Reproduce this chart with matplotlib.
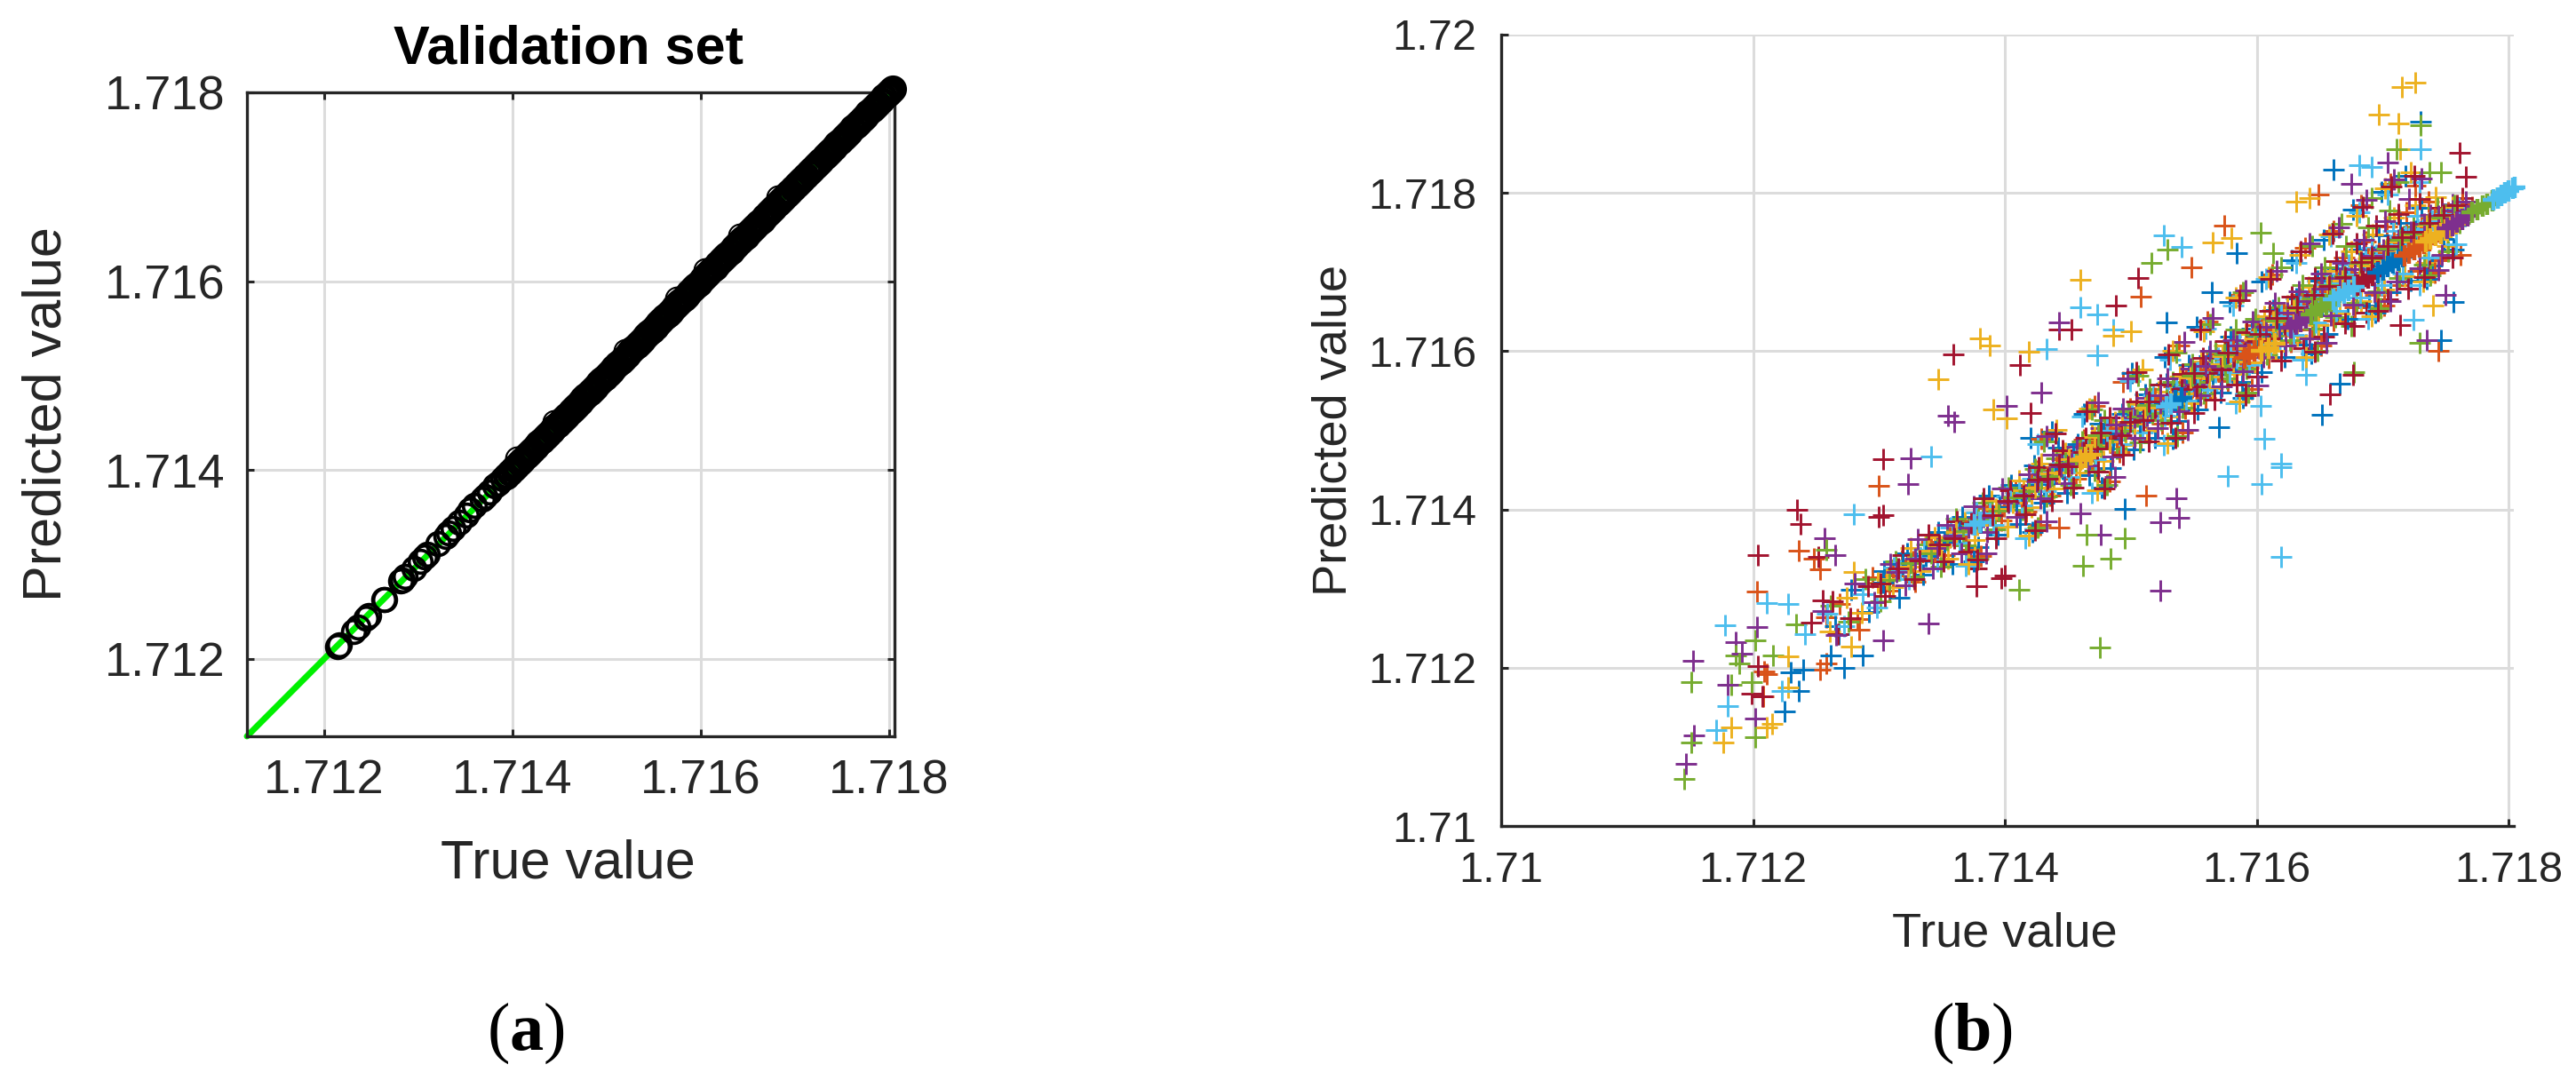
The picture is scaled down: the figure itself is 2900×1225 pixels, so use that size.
import matplotlib
matplotlib.use("Agg")
import matplotlib.pyplot as plt

plt.rcParams["font.family"] = ["Liberation Sans", "DejaVu Sans"]
plt.rcParams["mathtext.fontset"] = "custom"
plt.rcParams["mathtext.rm"] = "Liberation Serif"
plt.rcParams["mathtext.bf"] = "Liberation Serif:bold"

W, H = 2900, 1225
text_col = "#262626"
grid_col = "#dcdcdc"

# (a) validation set
val_line = [1.71118, 1.71800]
val_true = [1.71216, 1.71214, 1.71231, 1.71236, 1.71244, 1.71247, 1.71263, 1.71264, 1.71281, 1.71283, 1.71286,
            1.71295, 1.71302, 1.71307, 1.71310, 1.71321, 1.71329, 1.71332, 1.71337, 1.71344, 1.71351, 1.71355,
            1.71360, 1.71368, 1.71371, 1.71376, 1.71381, 1.71385, 1.71390]
val_pred = [1.71215, 1.71213, 1.71229, 1.71234, 1.71243, 1.71246, 1.71263, 1.71263, 1.71283, 1.71284, 1.71287,
            1.71296, 1.71303, 1.71308, 1.71311, 1.71322, 1.71330, 1.71333, 1.71338, 1.71345, 1.71352, 1.71358,
            1.71363, 1.71369, 1.71372, 1.71377, 1.71383, 1.71386, 1.71391]
val_dense = [1.71394, 1.71397, 1.71401, 1.71404, 1.71408, 1.71411, 1.71415, 1.71418, 1.71421, 1.71425, 1.71428,
             1.71431, 1.71435, 1.71438, 1.71442, 1.71445, 1.71448, 1.71452, 1.71455, 1.71458, 1.71462, 1.71465,
             1.71468, 1.71472, 1.71475, 1.71478, 1.71482, 1.71485, 1.71488, 1.71492, 1.71495, 1.71498, 1.71502,
             1.71505, 1.71508, 1.71512, 1.71515, 1.71518, 1.71522, 1.71525, 1.71528, 1.71532, 1.71535, 1.71538,
             1.71542, 1.71545, 1.71548, 1.71552, 1.71555, 1.71558, 1.71562, 1.71565, 1.71568, 1.71572, 1.71575,
             1.71578, 1.71582, 1.71585, 1.71588, 1.71592, 1.71595, 1.71598, 1.71602, 1.71605, 1.71608, 1.71612,
             1.71615, 1.71618, 1.71622, 1.71625, 1.71628, 1.71632, 1.71635, 1.71638, 1.71642, 1.71645, 1.71648,
             1.71652, 1.71655, 1.71658, 1.71662, 1.71665, 1.71668, 1.71672, 1.71675, 1.71678, 1.71682, 1.71685,
             1.71688, 1.71692, 1.71695, 1.71698, 1.71702, 1.71705, 1.71708, 1.71712, 1.71715, 1.71718, 1.71722,
             1.71725, 1.71728, 1.71732, 1.71735, 1.71738, 1.71742, 1.71745, 1.71748, 1.71752, 1.71755, 1.71758,
             1.71762, 1.71765, 1.71768, 1.71772, 1.71775, 1.71778, 1.71782, 1.71785, 1.71788, 1.71792, 1.71795,
             1.71798, 1.71800, 1.71802, 1.71804]
val_off_true = [1.71405, 1.71575, 1.71605, 1.71682, 1.71642, 1.71520, 1.71445]
val_off_pred = [1.71412, 1.71582, 1.71612, 1.71689, 1.71649, 1.71526, 1.71451]

# (b) crosses, one list per colour
blue_pts = [(1.71225, 1.71145), (1.71236, 1.71171), (1.71272, 1.71200), (1.71287, 1.71215), (1.71652, 1.71520),
            (1.71666, 1.71559), (1.71570, 1.71504), (1.71495, 1.71401), (1.71756, 1.71662), (1.71746, 1.71614),
            (1.71730, 1.71890), (1.71661, 1.71829), (1.71584, 1.71724), (1.71564, 1.71675), (1.71528, 1.71636),
            (1.71420, 1.71491), (1.71230, 1.71194), (1.71240, 1.71197), (1.71262, 1.71216), (1.71268, 1.71242),
            (1.71265, 1.71252), (1.71278, 1.71298), (1.71292, 1.71271), (1.71304, 1.71322), (1.71316, 1.71289),
            (1.71322, 1.71345), (1.71335, 1.71318), (1.71347, 1.71372), (1.71358, 1.71331), (1.71366, 1.71391),
            (1.71379, 1.71352), (1.71387, 1.71418), (1.71394, 1.71368), (1.71405, 1.71431), (1.71412, 1.71382),
            (1.71423, 1.71456), (1.71431, 1.71409), (1.71442, 1.71478), (1.71449, 1.71421), (1.71458, 1.71483),
            (1.71467, 1.71443), (1.71475, 1.71508), (1.71484, 1.71452), (1.71493, 1.71521), (1.71502, 1.71476),
            (1.71511, 1.71546), (1.71519, 1.71491), (1.71528, 1.71559), (1.71537, 1.71512), (1.71546, 1.71583),
            (1.71553, 1.71526), (1.71562, 1.71594), (1.71571, 1.71548), (1.71579, 1.71618), (1.71588, 1.71561),
            (1.71596, 1.71629), (1.71604, 1.71574), (1.71613, 1.71652), (1.71622, 1.71593), (1.71631, 1.71667),
            (1.71639, 1.71608), (1.71648, 1.71689), (1.71656, 1.71622), (1.71664, 1.71705), (1.71672, 1.71641),
            (1.71681, 1.71728), (1.71689, 1.71658), (1.71697, 1.71746), (1.71706, 1.71675), (1.71714, 1.71762),
            (1.71722, 1.71689), (1.71731, 1.71781), (1.71739, 1.71708), (1.71748, 1.71742), (1.71756, 1.71728),
            (1.71765, 1.71771)]
blue_fill = [(1.71303, 1.71308), (1.71319, 1.71331), (1.71337, 1.71341), (1.71352, 1.71359), (1.71364, 1.71372),
             (1.71381, 1.71384), (1.71396, 1.71403), (1.71409, 1.71412), (1.71418, 1.71427), (1.71427, 1.71432),
             (1.71439, 1.71444), (1.71446, 1.71451), (1.71454, 1.71468), (1.71465, 1.71469), (1.71474, 1.71482),
             (1.71486, 1.71488), (1.71497, 1.71507), (1.71507, 1.71511), (1.71516, 1.71524), (1.71526, 1.71532),
             (1.71534, 1.71543), (1.71544, 1.71551), (1.71555, 1.71563), (1.71565, 1.71571), (1.71573, 1.71582),
             (1.71583, 1.71589), (1.71593, 1.71602), (1.71602, 1.71607), (1.71611, 1.71622), (1.71619, 1.71628),
             (1.71628, 1.71641), (1.71635, 1.71643), (1.71644, 1.71657), (1.71652, 1.71659), (1.71661, 1.71676),
             (1.71668, 1.71678), (1.71437, 1.71498), (1.71463, 1.71521), (1.71501, 1.71572), (1.71527, 1.71593),
             (1.71552, 1.71631), (1.71578, 1.71662), (1.71604, 1.71688), (1.71628, 1.71715), (1.71653, 1.71741),
             (1.71676, 1.71779), (1.71699, 1.71801), (1.71718, 1.71821), (1.71375, 1.71335), (1.71422, 1.71371),
             (1.71477, 1.71428), (1.71533, 1.71489), (1.71589, 1.71541), (1.71643, 1.71597), (1.71694, 1.71649),
             (1.71735, 1.71691)]
blue_gap = [(1.71478, 1.71496), (1.71515, 1.71534), (1.71551, 1.71571), (1.71576, 1.71597), (1.71601, 1.71619),
            (1.71617, 1.71641), (1.71633, 1.71655), (1.71646, 1.71668), (1.71659, 1.71684), (1.71671, 1.71693),
            (1.71684, 1.71712), (1.71693, 1.71719), (1.71705, 1.71731), (1.71716, 1.71742), (1.71726, 1.71752),
            (1.71738, 1.71763), (1.71749, 1.71771), (1.71758, 1.71779)]
orange_pts = [(1.71203, 1.71296), (1.71236, 1.71348), (1.71248, 1.71338), (1.71300, 1.71430), (1.71508, 1.71669),
              (1.71574, 1.71759), (1.71548, 1.71706), (1.71744, 1.71601), (1.71443, 1.71377), (1.71512, 1.71417),
              (1.71649, 1.71798), (1.71253, 1.71197), (1.71209, 1.71195), (1.71253, 1.71324), (1.71211, 1.71192),
              (1.71208, 1.71164), (1.71258, 1.71205), (1.71284, 1.71248),
              (1.71258, 1.71264), (1.71269, 1.71281), (1.71283, 1.71262), (1.71295, 1.71314), (1.71308, 1.71297),
              (1.71318, 1.71336), (1.71329, 1.71309), (1.71341, 1.71359), (1.71352, 1.71342), (1.71363, 1.71378),
              (1.71372, 1.71349), (1.71384, 1.71402), (1.71397, 1.71386), (1.71408, 1.71422), (1.71417, 1.71397),
              (1.71426, 1.71449), (1.71436, 1.71418), (1.71445, 1.71463), (1.71456, 1.71439), (1.71463, 1.71488),
              (1.71473, 1.71452), (1.71482, 1.71497), (1.71491, 1.71473), (1.71499, 1.71528), (1.71508, 1.71489),
              (1.71516, 1.71537), (1.71525, 1.71508), (1.71534, 1.71556), (1.71543, 1.71527), (1.71551, 1.71575),
              (1.71559, 1.71541), (1.71568, 1.71596), (1.71577, 1.71562), (1.71585, 1.71612), (1.71593, 1.71579),
              (1.71601, 1.71633), (1.71609, 1.71591), (1.71618, 1.71648), (1.71627, 1.71612), (1.71635, 1.71671),
              (1.71644, 1.71627), (1.71652, 1.71692), (1.71661, 1.71639), (1.71669, 1.71718), (1.71678, 1.71655),
              (1.71686, 1.71739), (1.71694, 1.71671), (1.71703, 1.71758), (1.71711, 1.71684), (1.71719, 1.71776),
              (1.71728, 1.71702), (1.71736, 1.71789), (1.71745, 1.71715), (1.71753, 1.71768), (1.71762, 1.71722),
              (1.71771, 1.71782)]
orange_fill = [(1.71311, 1.71317), (1.71327, 1.71335), (1.71344, 1.71347), (1.71356, 1.71365), (1.71369, 1.71374),
               (1.71386, 1.71393), (1.71399, 1.71404), (1.71413, 1.71416), (1.71421, 1.71431), (1.71433, 1.71437),
               (1.71441, 1.71453), (1.71451, 1.71454), (1.71459, 1.71471), (1.71469, 1.71474), (1.71478, 1.71489),
               (1.71489, 1.71492), (1.71501, 1.71513), (1.71511, 1.71516), (1.71521, 1.71531), (1.71531, 1.71537),
               (1.71539, 1.71549), (1.71549, 1.71554), (1.71557, 1.71569), (1.71569, 1.71576), (1.71578, 1.71589),
               (1.71587, 1.71596), (1.71597, 1.71609), (1.71606, 1.71612), (1.71615, 1.71628), (1.71623, 1.71632),
               (1.71632, 1.71645), (1.71641, 1.71652), (1.71649, 1.71663), (1.71657, 1.71666), (1.71665, 1.71682),
               (1.71673, 1.71686), (1.71429, 1.71489), (1.71471, 1.71531), (1.71494, 1.71561), (1.71538, 1.71607),
               (1.71561, 1.71638), (1.71587, 1.71671), (1.71612, 1.71697), (1.71638, 1.71731), (1.71661, 1.71752),
               (1.71683, 1.71784), (1.71706, 1.71812), (1.71726, 1.71809), (1.71381, 1.71341), (1.71428, 1.71381),
               (1.71483, 1.71436), (1.71541, 1.71497), (1.71596, 1.71552), (1.71651, 1.71607), (1.71701, 1.71658),
               (1.71741, 1.71699)]
orange_gap = [(1.71484, 1.71503), (1.71519, 1.71541), (1.71555, 1.71577), (1.71581, 1.71601), (1.71604, 1.71627),
              (1.71621, 1.71646), (1.71637, 1.71659), (1.71649, 1.71676), (1.71663, 1.71688), (1.71675, 1.71699),
              (1.71688, 1.71717), (1.71697, 1.71724), (1.71709, 1.71737), (1.71719, 1.71748), (1.71731, 1.71756),
              (1.71741, 1.71768), (1.71752, 1.71775), (1.71763, 1.71786)]
yellow_pts = [(1.71726, 1.71939), (1.71715, 1.71934), (1.71697, 1.71899), (1.71712, 1.71888), (1.71714, 1.71855),
              (1.71460, 1.71690), (1.71380, 1.71616), (1.71388, 1.71607), (1.71347, 1.71564), (1.71419, 1.71599),
              (1.71391, 1.71526), (1.71401, 1.71515), (1.71500, 1.71625), (1.71486, 1.71619), (1.71565, 1.71737),
              (1.71580, 1.71743), (1.71631, 1.71789), (1.71642, 1.71794), (1.71740, 1.71658), (1.71183, 1.71125),
              (1.71176, 1.71105), (1.71215, 1.71129), (1.71211, 1.71125), (1.71228, 1.71175), (1.71278, 1.71227),
              (1.71280, 1.71321), (1.71228, 1.71214),
              (1.71261, 1.71246), (1.71274, 1.71289), (1.71286, 1.71269), (1.71299, 1.71307), (1.71311, 1.71302),
              (1.71325, 1.71351), (1.71333, 1.71322), (1.71344, 1.71365), (1.71355, 1.71338), (1.71368, 1.71384),
              (1.71376, 1.71361), (1.71389, 1.71411), (1.71402, 1.71378), (1.71411, 1.71437), (1.71421, 1.71403),
              (1.71429, 1.71458), (1.71439, 1.71426), (1.71448, 1.71471), (1.71459, 1.71447), (1.71469, 1.71494),
              (1.71478, 1.71461), (1.71487, 1.71511), (1.71496, 1.71482), (1.71505, 1.71533), (1.71513, 1.71499),
              (1.71522, 1.71549), (1.71531, 1.71517), (1.71539, 1.71568), (1.71548, 1.71534), (1.71556, 1.71587),
              (1.71565, 1.71553), (1.71574, 1.71607), (1.71582, 1.71571), (1.71591, 1.71622), (1.71598, 1.71586),
              (1.71606, 1.71644), (1.71615, 1.71601), (1.71624, 1.71658), (1.71632, 1.71619), (1.71641, 1.71681),
              (1.71649, 1.71633), (1.71658, 1.71702), (1.71666, 1.71648), (1.71675, 1.71726), (1.71683, 1.71663),
              (1.71692, 1.71748), (1.71701, 1.71678), (1.71709, 1.71769), (1.71717, 1.71695), (1.71726, 1.71785),
              (1.71734, 1.71712), (1.71742, 1.71795), (1.71751, 1.71733), (1.71759, 1.71776)]
yellow_fill = [(1.71306, 1.71312), (1.71323, 1.71328), (1.71339, 1.71348), (1.71349, 1.71353), (1.71361, 1.71371),
               (1.71378, 1.71381), (1.71393, 1.71401), (1.71406, 1.71409), (1.71415, 1.71424), (1.71424, 1.71428),
               (1.71436, 1.71446), (1.71443, 1.71447), (1.71451, 1.71463), (1.71461, 1.71465), (1.71471, 1.71481),
               (1.71483, 1.71486), (1.71493, 1.71504), (1.71503, 1.71508), (1.71514, 1.71526), (1.71523, 1.71529),
               (1.71532, 1.71541), (1.71541, 1.71547), (1.71553, 1.71566), (1.71562, 1.71568), (1.71571, 1.71584),
               (1.71581, 1.71587), (1.71591, 1.71604), (1.71599, 1.71606), (1.71608, 1.71619), (1.71617, 1.71626),
               (1.71626, 1.71642), (1.71633, 1.71641), (1.71642, 1.71658), (1.71651, 1.71661), (1.71659, 1.71674),
               (1.71667, 1.71683), (1.71441, 1.71501), (1.71467, 1.71528), (1.71509, 1.71577), (1.71533, 1.71601),
               (1.71558, 1.71625), (1.71583, 1.71668), (1.71609, 1.71694), (1.71634, 1.71722), (1.71657, 1.71748),
               (1.71679, 1.71771), (1.71702, 1.71806), (1.71722, 1.71826), (1.71371, 1.71331), (1.71419, 1.71367),
               (1.71473, 1.71424), (1.71529, 1.71484), (1.71586, 1.71537), (1.71639, 1.71593), (1.71691, 1.71644),
               (1.71732, 1.71688)]
yellow_gap = [(1.71471, 1.71492), (1.71511, 1.71529), (1.71547, 1.71567), (1.71573, 1.71594), (1.71598, 1.71616),
              (1.71613, 1.71637), (1.71629, 1.71652), (1.71643, 1.71665), (1.71656, 1.71681), (1.71668, 1.71689),
              (1.71681, 1.71708), (1.71690, 1.71714), (1.71701, 1.71727), (1.71713, 1.71738), (1.71723, 1.71747),
              (1.71735, 1.71759), (1.71746, 1.71768), (1.71755, 1.71782)]
purple_pts = [(1.71152, 1.71209), (1.71147, 1.71079), (1.71153, 1.71114), (1.71186, 1.71232), (1.71202, 1.71136),
              (1.71191, 1.71218), (1.71257, 1.71364), (1.71325, 1.71465), (1.71323, 1.71432), (1.71339, 1.71256),
              (1.71523, 1.71297), (1.71303, 1.71235), (1.71476, 1.71368), (1.71538, 1.71390), (1.71523, 1.71384),
              (1.71536, 1.71414), (1.71429, 1.71548), (1.71443, 1.71636), (1.71401, 1.71531), (1.71355, 1.71518),
              (1.71360, 1.71511), (1.71750, 1.71671), (1.71735, 1.71614), (1.71460, 1.71395), (1.71675, 1.71811),
              (1.71704, 1.71838), (1.71203, 1.71251), (1.71180, 1.71179), (1.71265, 1.71342),
              (1.71255, 1.71272), (1.71266, 1.71241), (1.71281, 1.71306), (1.71296, 1.71283), (1.71309, 1.71331),
              (1.71321, 1.71304), (1.71331, 1.71362), (1.71343, 1.71326), (1.71354, 1.71381), (1.71365, 1.71344),
              (1.71375, 1.71404), (1.71386, 1.71372), (1.71398, 1.71426), (1.71409, 1.71391), (1.71419, 1.71444),
              (1.71428, 1.71414), (1.71438, 1.71469), (1.71447, 1.71433), (1.71457, 1.71479), (1.71466, 1.71456),
              (1.71476, 1.71503), (1.71485, 1.71467), (1.71494, 1.71527), (1.71503, 1.71491), (1.71512, 1.71541),
              (1.71521, 1.71503), (1.71529, 1.71566), (1.71538, 1.71524), (1.71547, 1.71578), (1.71555, 1.71544),
              (1.71563, 1.71601), (1.71572, 1.71556), (1.71581, 1.71614), (1.71589, 1.71575), (1.71597, 1.71637),
              (1.71605, 1.71593), (1.71614, 1.71661), (1.71623, 1.71607), (1.71633, 1.71676), (1.71642, 1.71616),
              (1.71651, 1.71698), (1.71659, 1.71645), (1.71668, 1.71712), (1.71676, 1.71659), (1.71685, 1.71741),
              (1.71693, 1.71675), (1.71702, 1.71764), (1.71711, 1.71688), (1.71721, 1.71792), (1.71729, 1.71705),
              (1.71738, 1.71772), (1.71747, 1.71722), (1.71755, 1.71786)]
purple_fill = [(1.71314, 1.71321), (1.71329, 1.71338), (1.71346, 1.71351), (1.71359, 1.71367), (1.71371, 1.71377),
               (1.71383, 1.71391), (1.71403, 1.71408), (1.71416, 1.71419), (1.71425, 1.71435), (1.71435, 1.71441),
               (1.71444, 1.71455), (1.71453, 1.71458), (1.71461, 1.71473), (1.71471, 1.71477), (1.71481, 1.71492),
               (1.71491, 1.71496), (1.71503, 1.71516), (1.71513, 1.71518), (1.71523, 1.71534), (1.71533, 1.71539),
               (1.71542, 1.71553), (1.71551, 1.71558), (1.71561, 1.71574), (1.71571, 1.71579), (1.71581, 1.71593),
               (1.71591, 1.71599), (1.71601, 1.71612), (1.71609, 1.71617), (1.71618, 1.71631), (1.71627, 1.71637),
               (1.71637, 1.71652), (1.71644, 1.71654), (1.71653, 1.71668), (1.71661, 1.71671), (1.71669, 1.71687),
               (1.71677, 1.71691), (1.71433, 1.71493), (1.71474, 1.71535), (1.71497, 1.71566), (1.71542, 1.71612),
               (1.71565, 1.71642), (1.71591, 1.71677), (1.71616, 1.71702), (1.71642, 1.71736), (1.71665, 1.71757),
               (1.71687, 1.71791), (1.71709, 1.71817), (1.71731, 1.71818), (1.71385, 1.71344), (1.71433, 1.71385),
               (1.71487, 1.71441), (1.71545, 1.71501), (1.71601, 1.71557), (1.71655, 1.71611), (1.71706, 1.71663),
               (1.71744, 1.71703)]
purple_gap = [(1.71488, 1.71507), (1.71523, 1.71544), (1.71559, 1.71581), (1.71584, 1.71607), (1.71607, 1.71631),
              (1.71624, 1.71649), (1.71640, 1.71663), (1.71652, 1.71679), (1.71666, 1.71692), (1.71678, 1.71704),
              (1.71691, 1.71721), (1.71700, 1.71728), (1.71712, 1.71741), (1.71722, 1.71751), (1.71733, 1.71761),
              (1.71744, 1.71771), (1.71755, 1.71778), (1.71766, 1.71789)]
green_pts = [(1.71145, 1.71060), (1.71151, 1.71182), (1.71151, 1.71105), (1.71183, 1.71178), (1.71186, 1.71215),
             (1.71202, 1.71235), (1.71202, 1.71112), (1.71475, 1.71226), (1.71411, 1.71298), (1.71462, 1.71329),
             (1.71484, 1.71338), (1.71495, 1.71364), (1.71465, 1.71368), (1.71529, 1.71728), (1.71516, 1.71711),
             (1.71603, 1.71750), (1.71613, 1.71724), (1.71730, 1.71886), (1.71711, 1.71855), (1.71746, 1.71826),
             (1.71675, 1.71632), (1.71729, 1.71610), (1.71677, 1.71573), (1.71189, 1.71205), (1.71199, 1.71182),
             (1.71216, 1.71216), (1.71234, 1.71255), (1.71258, 1.71349),
             (1.71262, 1.71278), (1.71276, 1.71258), (1.71289, 1.71312), (1.71301, 1.71284), (1.71313, 1.71334),
             (1.71327, 1.71315), (1.71338, 1.71356), (1.71349, 1.71328), (1.71361, 1.71388), (1.71369, 1.71355),
             (1.71382, 1.71408), (1.71392, 1.71375), (1.71403, 1.71428), (1.71414, 1.71399), (1.71424, 1.71451),
             (1.71433, 1.71416), (1.71441, 1.71465), (1.71452, 1.71431), (1.71461, 1.71486), (1.71471, 1.71449),
             (1.71479, 1.71513), (1.71489, 1.71477), (1.71498, 1.71524), (1.71507, 1.71485), (1.71515, 1.71552),
             (1.71524, 1.71513), (1.71533, 1.71561), (1.71541, 1.71529), (1.71549, 1.71584), (1.71558, 1.71547),
             (1.71567, 1.71599), (1.71576, 1.71566), (1.71583, 1.71627), (1.71592, 1.71578), (1.71599, 1.71641),
             (1.71608, 1.71596), (1.71617, 1.71655), (1.71626, 1.71614), (1.71636, 1.71684), (1.71645, 1.71629),
             (1.71654, 1.71706), (1.71662, 1.71643), (1.71671, 1.71733), (1.71679, 1.71661), (1.71688, 1.71756),
             (1.71696, 1.71676), (1.71705, 1.71778), (1.71713, 1.71692), (1.71724, 1.71758), (1.71733, 1.71709),
             (1.71743, 1.71781), (1.71752, 1.71726), (1.71761, 1.71762)]
green_fill = [(1.71308, 1.71311), (1.71325, 1.71332), (1.71341, 1.71345), (1.71354, 1.71361), (1.71367, 1.71373),
              (1.71379, 1.71387), (1.71395, 1.71398), (1.71407, 1.71415), (1.71419, 1.71423), (1.71429, 1.71439),
              (1.71437, 1.71442), (1.71448, 1.71459), (1.71456, 1.71461), (1.71467, 1.71478), (1.71476, 1.71479),
              (1.71485, 1.71497), (1.71495, 1.71499), (1.71505, 1.71517), (1.71517, 1.71522), (1.71528, 1.71539),
              (1.71536, 1.71542), (1.71546, 1.71558), (1.71554, 1.71561), (1.71564, 1.71577), (1.71575, 1.71581),
              (1.71585, 1.71598), (1.71594, 1.71599), (1.71604, 1.71616), (1.71613, 1.71619), (1.71621, 1.71636),
              (1.71631, 1.71639), (1.71639, 1.71656), (1.71647, 1.71655), (1.71656, 1.71672), (1.71663, 1.71673),
              (1.71672, 1.71691), (1.71431, 1.71486), (1.71469, 1.71526), (1.71506, 1.71569), (1.71536, 1.71598),
              (1.71563, 1.71634), (1.71589, 1.71674), (1.71619, 1.71706), (1.71644, 1.71733), (1.71667, 1.71761),
              (1.71691, 1.71794), (1.71712, 1.71814), (1.71737, 1.71826), (1.71379, 1.71338), (1.71426, 1.71377),
              (1.71481, 1.71431), (1.71537, 1.71493), (1.71593, 1.71548), (1.71648, 1.71601), (1.71698, 1.71654),
              (1.71738, 1.71696)]
green_gap = [(1.71474, 1.71494), (1.71513, 1.71532), (1.71549, 1.71569), (1.71574, 1.71596), (1.71599, 1.71621),
             (1.71615, 1.71639), (1.71631, 1.71654), (1.71644, 1.71667), (1.71658, 1.71683), (1.71669, 1.71695),
             (1.71682, 1.71711), (1.71692, 1.71717), (1.71703, 1.71729), (1.71714, 1.71741), (1.71725, 1.71749),
             (1.71736, 1.71761), (1.71747, 1.71769), (1.71757, 1.71784)]
cyan_pts = [(1.71178, 1.71254), (1.71180, 1.71151), (1.71171, 1.71121), (1.71211, 1.71282), (1.71228, 1.71281),
            (1.71280, 1.71394), (1.71341, 1.71467), (1.71526, 1.71746), (1.71540, 1.71732), (1.71460, 1.71655),
            (1.71473, 1.71647), (1.71433, 1.71603), (1.71486, 1.71627), (1.71473, 1.71595), (1.71603, 1.71531),
            (1.71606, 1.71489), (1.71619, 1.71458), (1.71619, 1.71453), (1.71577, 1.71442), (1.71604, 1.71432),
            (1.71619, 1.71340), (1.71681, 1.71835), (1.71691, 1.71833), (1.71730, 1.71855), (1.71639, 1.71570),
            (1.71724, 1.71640), (1.71223, 1.71171), (1.71241, 1.71242),
            (1.71259, 1.71268), (1.71272, 1.71253), (1.71287, 1.71293), (1.71298, 1.71276), (1.71312, 1.71327),
            (1.71324, 1.71312), (1.71336, 1.71349), (1.71346, 1.71334), (1.71357, 1.71377), (1.71364, 1.71358),
            (1.71377, 1.71396), (1.71391, 1.71381), (1.71401, 1.71416), (1.71413, 1.71405), (1.71422, 1.71439),
            (1.71432, 1.71423), (1.71443, 1.71458), (1.71451, 1.71441), (1.71462, 1.71476), (1.71472, 1.71463),
            (1.71481, 1.71504), (1.71492, 1.71483), (1.71501, 1.71518), (1.71509, 1.71497), (1.71518, 1.71544),
            (1.71527, 1.71519), (1.71536, 1.71553), (1.71544, 1.71538), (1.71552, 1.71572), (1.71561, 1.71551),
            (1.71569, 1.71591), (1.71578, 1.71573), (1.71586, 1.71609), (1.71594, 1.71583), (1.71603, 1.71628),
            (1.71611, 1.71604), (1.71620, 1.71645), (1.71629, 1.71621), (1.71638, 1.71664), (1.71647, 1.71636),
            (1.71655, 1.71685), (1.71663, 1.71651), (1.71673, 1.71709), (1.71682, 1.71668), (1.71691, 1.71731),
            (1.71699, 1.71683), (1.71708, 1.71752), (1.71716, 1.71698), (1.71727, 1.71771), (1.71736, 1.71718),
            (1.71746, 1.71762), (1.71758, 1.71735)]
cyan_fill = [(1.71317, 1.71323), (1.71333, 1.71339), (1.71349, 1.71354), (1.71362, 1.71369), (1.71374, 1.71382),
             (1.71388, 1.71395), (1.71404, 1.71411), (1.71411, 1.71421), (1.71427, 1.71434), (1.71438, 1.71447),
             (1.71447, 1.71456), (1.71455, 1.71459), (1.71466, 1.71475), (1.71475, 1.71481), (1.71483, 1.71493),
             (1.71494, 1.71501), (1.71502, 1.71514), (1.71512, 1.71519), (1.71521, 1.71528), (1.71529, 1.71541),
             (1.71538, 1.71546), (1.71548, 1.71557), (1.71556, 1.71567), (1.71567, 1.71574), (1.71576, 1.71587),
             (1.71584, 1.71592), (1.71596, 1.71607), (1.71605, 1.71614), (1.71614, 1.71626), (1.71624, 1.71634),
             (1.71634, 1.71647), (1.71642, 1.71651), (1.71651, 1.71667), (1.71659, 1.71669), (1.71667, 1.71684),
             (1.71675, 1.71688), (1.71426, 1.71483), (1.71461, 1.71517), (1.71499, 1.71562), (1.71531, 1.71589),
             (1.71559, 1.71628), (1.71581, 1.71658), (1.71607, 1.71691), (1.71631, 1.71711), (1.71659, 1.71745),
             (1.71681, 1.71775), (1.71704, 1.71798), (1.71729, 1.71814), (1.71369, 1.71329), (1.71416, 1.71364),
             (1.71469, 1.71421), (1.71526, 1.71481), (1.71583, 1.71534), (1.71636, 1.71589), (1.71688, 1.71641),
             (1.71729, 1.71684)]
cyan_gap = [(1.71481, 1.71499), (1.71517, 1.71537), (1.71553, 1.71574), (1.71579, 1.71599), (1.71603, 1.71624),
            (1.71619, 1.71644), (1.71635, 1.71657), (1.71648, 1.71672), (1.71661, 1.71686), (1.71673, 1.71697),
            (1.71686, 1.71714), (1.71695, 1.71722), (1.71707, 1.71734), (1.71718, 1.71745), (1.71728, 1.71754),
            (1.71739, 1.71765), (1.71750, 1.71773), (1.71760, 1.71781)]
darkred_pts = [(1.71204, 1.71342), (1.71235, 1.71399), (1.71238, 1.71382), (1.71303, 1.71463), (1.71359, 1.71596),
               (1.71412, 1.71582), (1.71488, 1.71658), (1.71506, 1.71693), (1.71453, 1.71627), (1.71443, 1.71627),
               (1.71761, 1.71851), (1.71766, 1.71820), (1.71400, 1.71316), (1.71377, 1.71303), (1.71377, 1.71326),
               (1.71397, 1.71313), (1.71303, 1.71393), (1.71300, 1.71391), (1.71199, 1.71167), (1.71207, 1.71164),
               (1.71204, 1.71202), (1.71677, 1.71632), (1.71714, 1.71633), (1.71676, 1.71570), (1.71658, 1.71546),
               (1.71420, 1.71522), (1.71252, 1.71340), (1.71255, 1.71285), (1.71267, 1.71242), (1.71246, 1.71257),
               (1.71263, 1.71284), (1.71277, 1.71263), (1.71291, 1.71303), (1.71305, 1.71291), (1.71319, 1.71342),
               (1.71328, 1.71312), (1.71339, 1.71368), (1.71351, 1.71335), (1.71362, 1.71385), (1.71371, 1.71347),
               (1.71383, 1.71414), (1.71393, 1.71364), (1.71404, 1.71424), (1.71416, 1.71394), (1.71427, 1.71453),
               (1.71437, 1.71411), (1.71446, 1.71475), (1.71454, 1.71428), (1.71464, 1.71491), (1.71474, 1.71448),
               (1.71483, 1.71516), (1.71494, 1.71469), (1.71504, 1.71536), (1.71514, 1.71486), (1.71523, 1.71558),
               (1.71532, 1.71509), (1.71541, 1.71571), (1.71550, 1.71522), (1.71557, 1.71592), (1.71566, 1.71539),
               (1.71575, 1.71613), (1.71584, 1.71558), (1.71592, 1.71624), (1.71600, 1.71568), (1.71610, 1.71651),
               (1.71619, 1.71588), (1.71628, 1.71669), (1.71637, 1.71604), (1.71646, 1.71693), (1.71653, 1.71618),
               (1.71663, 1.71714), (1.71670, 1.71635), (1.71679, 1.71736), (1.71687, 1.71649), (1.71695, 1.71759),
               (1.71704, 1.71666), (1.71712, 1.71773), (1.71720, 1.71679), (1.71729, 1.71792), (1.71737, 1.71702),
               (1.71747, 1.71781), (1.71755, 1.71718), (1.71763, 1.71793)]
darkred_fill = [(1.71301, 1.71306), (1.71315, 1.71325), (1.71332, 1.71336), (1.71348, 1.71356), (1.71360, 1.71364),
                (1.71373, 1.71383), (1.71390, 1.71393), (1.71402, 1.71411), (1.71415, 1.71418), (1.71426, 1.71438),
                (1.71434, 1.71439), (1.71443, 1.71457), (1.71450, 1.71454), (1.71463, 1.71472), (1.71473, 1.71477),
                (1.71480, 1.71491), (1.71492, 1.71494), (1.71499, 1.71511), (1.71510, 1.71513), (1.71519, 1.71529),
                (1.71528, 1.71534), (1.71540, 1.71552), (1.71552, 1.71556), (1.71560, 1.71572), (1.71572, 1.71577),
                (1.71582, 1.71594), (1.71590, 1.71597), (1.71600, 1.71613), (1.71610, 1.71616), (1.71622, 1.71634),
                (1.71630, 1.71637), (1.71641, 1.71654), (1.71650, 1.71658), (1.71658, 1.71671), (1.71666, 1.71676),
                (1.71674, 1.71693), (1.71440, 1.71496), (1.71465, 1.71524), (1.71504, 1.71574), (1.71530, 1.71596),
                (1.71555, 1.71627), (1.71586, 1.71664), (1.71611, 1.71691), (1.71635, 1.71726), (1.71660, 1.71749),
                (1.71684, 1.71782), (1.71707, 1.71808), (1.71725, 1.71822), (1.71378, 1.71337), (1.71424, 1.71374),
                (1.71479, 1.71426), (1.71535, 1.71491), (1.71591, 1.71544), (1.71646, 1.71599), (1.71696, 1.71651),
                (1.71733, 1.71694)]
darkred_gap = [(1.71476, 1.71497), (1.71514, 1.71536), (1.71550, 1.71572), (1.71577, 1.71598), (1.71602, 1.71622),
               (1.71616, 1.71642), (1.71632, 1.71656), (1.71645, 1.71671), (1.71657, 1.71682), (1.71670, 1.71694),
               (1.71683, 1.71713), (1.71691, 1.71718), (1.71704, 1.71733), (1.71715, 1.71744), (1.71724, 1.71751),
               (1.71737, 1.71762), (1.71748, 1.71772), (1.71759, 1.71785)]

# solid runs along the diagonal
blue_core = [(1.71696, 1.71699), (1.71700, 1.71703), (1.71704, 1.71707), (1.71708, 1.71711), (1.71712, 1.71715),
             (1.71716, 1.71719), (1.71535, 1.71538), (1.71540, 1.71541)]
orange_core = [(1.71717, 1.71720), (1.71721, 1.71724), (1.71725, 1.71728), (1.71729, 1.71732), (1.71733, 1.71736),
               (1.71737, 1.71740), (1.71590, 1.71592), (1.71594, 1.71596), (1.71598, 1.71600), (1.71602, 1.71604)]
yellow_core = [(1.71734, 1.71738), (1.71738, 1.71742), (1.71742, 1.71746), (1.71746, 1.71749), (1.71750, 1.71753),
               (1.71754, 1.71757), (1.71758, 1.71761), (1.71460, 1.71462), (1.71464, 1.71466), (1.71468, 1.71469),
               (1.71604, 1.71600), (1.71609, 1.71604), (1.71614, 1.71609)]
purple_core = [(1.71751, 1.71755), (1.71755, 1.71759), (1.71759, 1.71763), (1.71763, 1.71767), (1.71767, 1.71771),
               (1.71771, 1.71775), (1.71627, 1.71630), (1.71631, 1.71634), (1.71635, 1.71638), (1.71639, 1.71642)]
green_core = [(1.71771, 1.71775), (1.71775, 1.71779), (1.71779, 1.71783), (1.71783, 1.71786), (1.71787, 1.71790),
              (1.71791, 1.71794), (1.71643, 1.71647), (1.71647, 1.71651), (1.71651, 1.71655), (1.71655, 1.71659),
              (1.71659, 1.71663)]
cyan_core = [(1.71788, 1.71791), (1.71791, 1.71794), (1.71794, 1.71797), (1.71797, 1.71800), (1.71800, 1.71803),
             (1.71803, 1.71806), (1.71805, 1.71807), (1.71661, 1.71665), (1.71665, 1.71669), (1.71669, 1.71673),
             (1.71673, 1.71677), (1.71677, 1.71681), (1.71528, 1.71530), (1.71532, 1.71533), (1.71376, 1.71380),
             (1.71380, 1.71384)]
darkred_core = [(1.71680, 1.71684), (1.71684, 1.71688), (1.71688, 1.71692), (1.71692, 1.71696), (1.71696, 1.71700)]

series_pts = [blue_pts + blue_fill + blue_gap, orange_pts + orange_fill + orange_gap,
              yellow_pts + yellow_fill + yellow_gap, purple_pts + purple_fill + purple_gap,
              green_pts + green_fill + green_gap, cyan_pts + cyan_fill + cyan_gap,
              darkred_pts + darkred_fill + darkred_gap]
series_core = [darkred_core, blue_core, orange_core, yellow_core, purple_core, green_core, cyan_core]
series_colors = ["#0072BD", "#D95319", "#EDB120", "#7E2F8E", "#77AC30", "#4DBEEE", "#A2142F"]
core_colors = ["#A2142F", "#0072BD", "#D95319", "#EDB120", "#7E2F8E", "#77AC30", "#4DBEEE"]

a_ticks = [1.712, 1.714, 1.716, 1.718]
a_ticklabels = ["1.712", "1.714", "1.716", "1.718"]
b_ticks = [1.71, 1.712, 1.714, 1.716, 1.718]
b_xticklabels = ["1.71", "1.712", "1.714", "1.716", "1.718"]
b_yticks = [1.71, 1.712, 1.714, 1.716, 1.718, 1.72]
b_yticklabels = ["1.71", "1.712", "1.714", "1.716", "1.718", "1.72"]


def px_axes(fig, left, top, right, bottom):
    return fig.add_axes([left / W, 1 - bottom / H, (right - left) / W, (bottom - top) / H])


def px_text(fig, x, y, s, **kw):
    fig.text(x / W, 1 - y / H, s, ha="center", va="center", color=kw.pop("color", text_col), **kw)


def style(ax, size, pad):
    ax.grid(True, color=grid_col, lw=2.2, zorder=0)
    ax.set_axisbelow(True)
    ax.tick_params(direction="in", length=6, width=2.2, colors=text_col, labelsize=size, pad=pad)
    for s in ax.spines.values():
        s.set_linewidth(2.4)
        s.set_color(text_col)


fig = plt.figure(figsize=(W / 100, H / 100), dpi=100)

# panel a
ax1 = px_axes(fig, 278, 104, 1007, 829)
ax1.plot(val_line, val_line, color="#00f000", lw=5, solid_capstyle="round", clip_on=False, zorder=2)
ax1.plot(val_true, val_pred, ls="none", marker="o", ms=18.5, mfc="none", mec="black", mew=2.7, clip_on=False, zorder=3)
ax1.plot(val_off_true, val_off_pred, ls="none", marker="o", ms=18.5, mfc="none", mec="black", mew=1.5, clip_on=False, zorder=3)
ax1.plot(val_dense, val_dense, ls="none", marker="o", ms=18.5, mfc="none", mec="black", mew=3.9, clip_on=False, zorder=3)
ax1.set_xlim(1.71118, 1.71806)
ax1.set_ylim(1.71118, 1.71800)
ax1.set_xticks(a_ticks)
ax1.set_xticklabels(a_ticklabels)
ax1.set_yticks(a_ticks)
ax1.set_yticklabels(a_ticklabels)
style(ax1, 39, 18)
ax1.tick_params(top=True, right=True)

# panel b
ax2 = px_axes(fig, 1690, 39, 2830, 930)
longest = max(len(p) for p in series_pts)
for i in range(longest):
    for pts, col in zip(series_pts, series_colors):
        if i < len(pts):
            ax2.plot(pts[i][0], pts[i][1], ls="none", marker="+", ms=17, mew=2.1, color=col, clip_on=False, zorder=3)
for pts, col in zip(series_core, core_colors):
    ax2.plot([p[0] for p in pts], [p[1] for p in pts], ls="none", marker="+", ms=17, mew=3.2, color=col, clip_on=False, zorder=4)
ax2.set_xlim(1.71, 1.71804)
ax2.set_ylim(1.71, 1.72)
ax2.set_xticks(b_ticks)
ax2.set_xticklabels(b_xticklabels)
ax2.set_yticks(b_yticks)
ax2.set_yticklabels(b_yticklabels)
style(ax2, 35, 20)
ax2.spines["top"].set_visible(False)
ax2.spines["right"].set_visible(False)

# labels
px_text(fig, 640, 56, "Validation set", fontsize=44, fontweight="bold", color="black")
px_text(fig, 639, 973, "True value", fontsize=44)
px_text(fig, 53, 466, "Predicted value", fontsize=44, rotation=90)
px_text(fig, 2257, 1051, "True value", fontsize=39)
px_text(fig, 1501, 484, "Predicted value", fontsize=39, rotation=90)
px_text(fig, 592, 1163, r"$\mathrm{(}\mathbf{a}\mathrm{)}$", fontsize=55, color="black")
px_text(fig, 2220, 1163, r"$\mathrm{(}\mathbf{b}\mathrm{)}$", fontsize=55, color="black")

fig.savefig("out.png", dpi=100)
